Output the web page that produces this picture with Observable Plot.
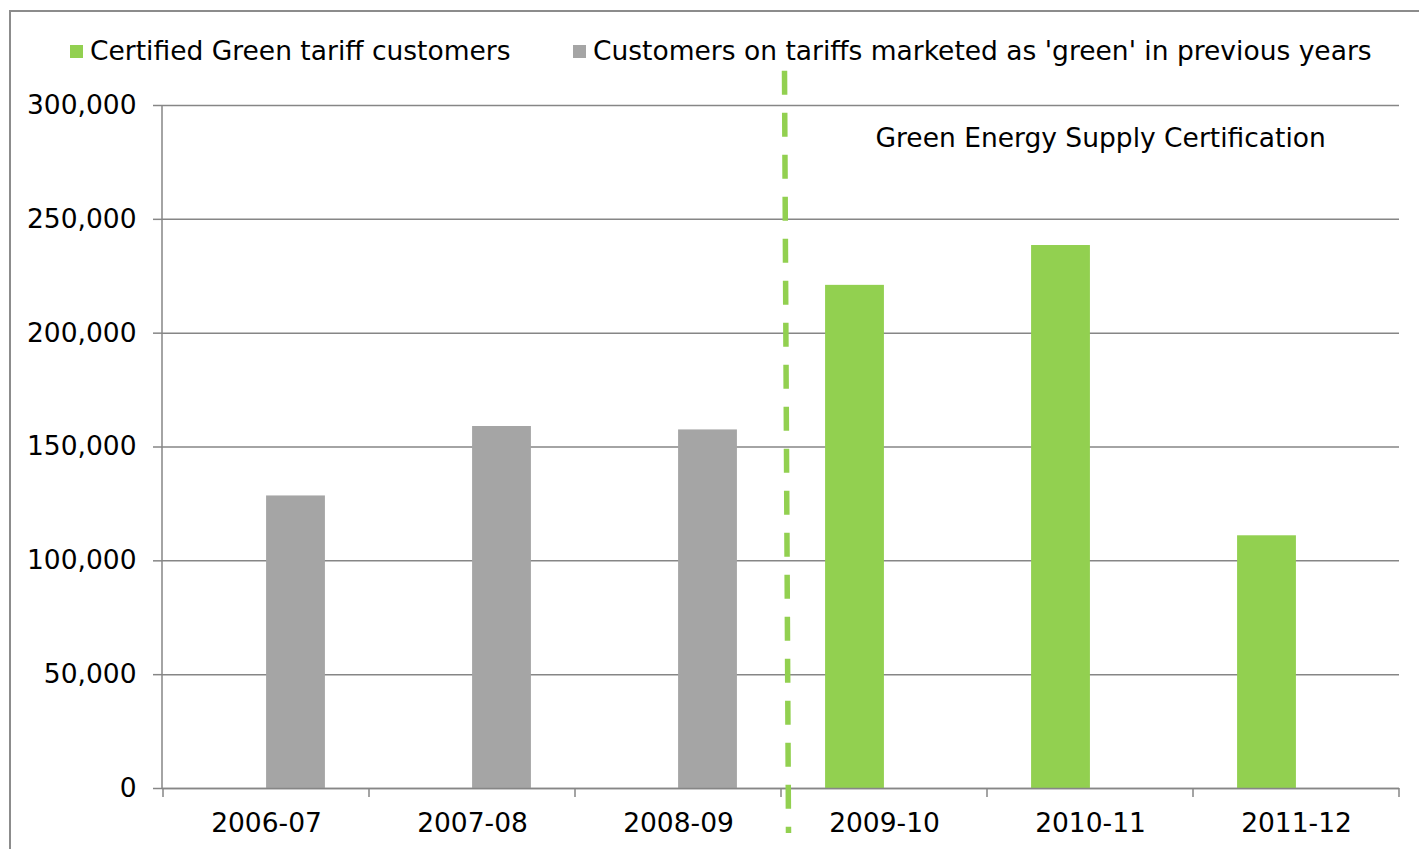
<!DOCTYPE html>
<html><head><meta charset="utf-8">
<script src="https://cdn.jsdelivr.net/npm/d3@7"></script>
<script src="https://cdn.jsdelivr.net/npm/@observablehq/plot@0.6"></script>
<style>
html,body{margin:0;padding:0;background:#fff;overflow:hidden;}
body{width:1419px;height:849px;position:relative;font-family:"DejaVu Sans",Verdana,sans-serif;color:#000;}
#frame{position:absolute;left:9px;top:10px;width:1500px;height:1000px;border:2px solid #8c8c8c;pointer-events:none;z-index:5;}
#legend{position:absolute;left:0;top:0;height:68px;width:1419px;font-size:26.5px;}
.item{position:absolute;top:36px;height:30px;line-height:30px;display:flex;align-items:center;white-space:nowrap;}
.sw{width:13px;height:13px;margin-right:7px;display:inline-block;}
#chart{position:absolute;left:0;top:68px;}
</style></head>
<body>
<div id="frame"></div>
<div id="legend"></div>
<div id="chart"></div>
<script>
const years = ["2006-07","2007-08","2008-09","2009-10","2010-11","2011-12"];
const certified = [0, 0, 0, 221000, 238500, 111000];
const marketed = [128500, 159000, 157500, 0, 0, 0];
const yTicks = [0, 50000, 100000, 150000, 200000, 250000, 300000];
const seriesNames = ["Certified Green tariff customers", "Customers on tariffs marketed as 'green' in previous years"];
const seriesColors = ["#92D050", "#A5A5A5"];
const annotation = ["Green Energy Supply Certification"];
const annotationYear = ["2009-10"];
const annotationValue = [285500];

// legend
const legendLeft = [70, 573];
const legend = document.getElementById("legend");
seriesNames.forEach((name, i) => {
  const it = document.createElement("div");
  it.className = "item";
  it.style.left = legendLeft[i] + "px";
  const sw = document.createElement("span");
  sw.className = "sw";
  sw.style.background = seriesColors[i];
  it.appendChild(sw);
  it.appendChild(document.createTextNode(name));
  legend.appendChild(it);
});

const W = 1419, H = 781, ML = 162, MR = 20, MT = 37, MB = 61;
const band = (W - ML - MR) / years.length;
const barW = 59;

const certData = years.map((y, i) => ({year: y, value: certified[i]})).filter(d => d.value > 0);
const markData = years.map((y, i) => ({year: y, value: marketed[i]})).filter(d => d.value > 0);

const axisColor = "#868686";

const chart = Plot.plot({
  width: W, height: H,
  marginLeft: ML, marginRight: MR, marginTop: MT, marginBottom: MB,
  style: {fontFamily: "'DejaVu Sans', Verdana, sans-serif", fontSize: "26.5px", color: "#000", background: "transparent", overflow: "visible"},
  x: {domain: years, padding: 0, label: null},
  y: {domain: [0, 300000], label: null},
  marks: [
    Plot.gridY(yTicks, {stroke: axisColor, strokeOpacity: 1, strokeWidth: 1.5}),
    Plot.barY(markData, {x: "year", y: "value", fill: seriesColors[1], insetLeft: band / 2, insetRight: band / 2 - barW}),
    Plot.barY(certData, {x: "year", y: "value", fill: seriesColors[0], insetLeft: band / 2 - barW, insetRight: band / 2}),
    Plot.ruleY([0], {stroke: axisColor, strokeWidth: 1.5}),
    Plot.axisY({ticks: yTicks, tickFormat: d3.format(","), tickSize: 9, tickPadding: 17, stroke: axisColor, strokeWidth: 1.5, fill: "#000", label: null}),
    Plot.axisX({tickSize: 0, tickPadding: 25, fill: "#000", label: null}),
    Plot.text(annotation, {x: (d, i) => annotationYear[i], y: (d, i) => annotationValue[i], text: d => d, textAnchor: "start", dx: -9, fill: "#000", fontSize: 26.5}),
    (index, scales, values, dims) => {
      const x = scales.x, y = scales.y;
      const bw = x.bandwidth ? x.bandwidth() : band;
      const g = d3.create("svg:g");
      const y0 = y(0), yTop = y(yTicks[yTicks.length - 1]);
      g.append("line").attr("x1", dims.marginLeft).attr("x2", dims.marginLeft)
        .attr("y1", yTop).attr("y2", y0).attr("stroke", axisColor).attr("stroke-width", 1.5);
      const bounds = years.map(v => x(v)).concat([x(years[years.length - 1]) + bw]);
      for (const b of bounds) {
        g.append("line").attr("x1", b).attr("x2", b).attr("y1", y0).attr("y2", y0 + 9)
          .attr("stroke", axisColor).attr("stroke-width", 1.5);
      }
      const bx = x(years[3]);
      g.append("line").attr("x1", bx + 3.5).attr("x2", bx + 7.5)
        .attr("y1", yTop - 34.3).attr("y2", y0 + 45)
        .attr("stroke", seriesColors[0]).attr("stroke-width", 5.5)
        .attr("stroke-dasharray", "24 18");
      return g.node();
    }
  ]
});
document.getElementById("chart").appendChild(chart);
</script>
</body></html>
